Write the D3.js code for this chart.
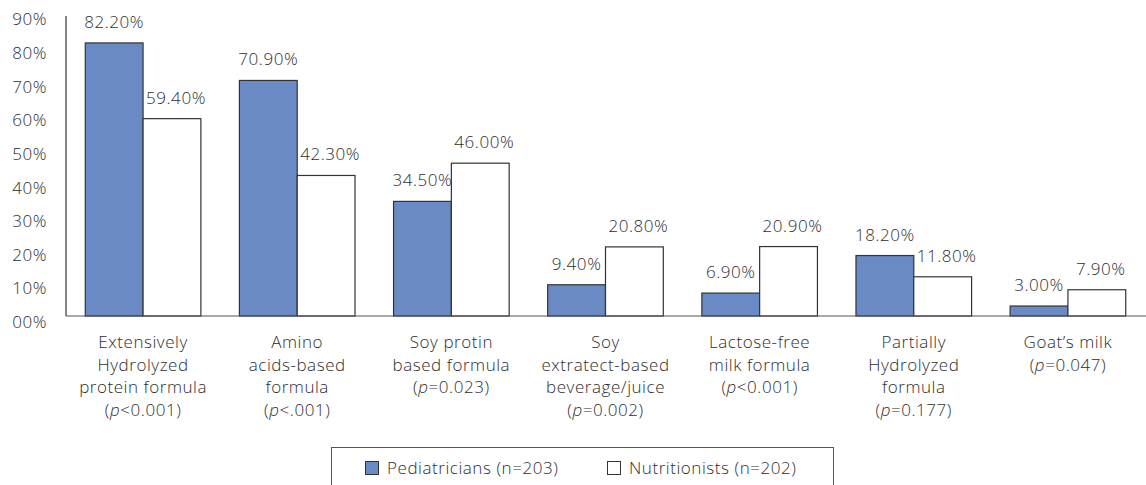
<!DOCTYPE html>
<html lang="en">
<head>
  <meta charset="UTF-8">
  <title>Formula recommendations</title>
  <script src="https://d3js.org/d3.v7.min.js"></script>
  <style>
    body {
      margin: 0;
      background: #fff;
      font-family: 'Open Sans', sans-serif;
    }
    svg text {
      fill: #2e2e2e;
      font-size: 17px;
      font-weight: 350;
      letter-spacing: 0.55px;
    }
  </style>
</head>
<body>
  <svg id="chart" width="1146" height="485"></svg>

  <script>
    // data
    const categories = [
      ["Extensively", "Hydrolyzed", "protein formula", "(p<0.001)"],
      ["Amino", "acids-based", "formula", "(p<.001)"],
      ["Soy protin", "based formula", "(p=0.023)"],
      ["Soy", "extratect-based", "beverage/juice", "(p=0.002)"],
      ["Lactose-free", "milk formula", "(p<0.001)"],
      ["Partially", "Hydrolyzed", "formula", "(p=0.177)"],
      ["Goat\u2019s milk", "(p=0.047)"]
    ];
    const pediatricians = [82.2, 70.9, 34.5, 9.4, 6.9, 18.2, 3.0];
    const nutritionists = [59.4, 42.3, 46.0, 20.8, 20.9, 11.8, 7.9];
    const seriesNames = ["Pediatricians (n=203)", "Nutritionists (n=202)"];
    const seriesColors = ["#6a8ac6", "#ffffff"];
    const yTicks = [0, 10, 20, 30, 40, 50, 60, 70, 80, 90];
    const yTickLabels = ["00%", "10%", "20%", "30%", "40%", "50%", "60%", "70%", "80%", "90%"];

    const svg = d3.select("#chart");
    const plotLeft = 66, plotRight = 1145, plotTop = 17, plotBottom = 316;

    const x = d3.scaleBand()
      .domain(d3.range(categories.length))
      .range([plotLeft, plotRight])
      .paddingInner(0.25)
      .paddingOuter(0.125);

    const xSub = d3.scaleBand()
      .domain([0, 1])
      .range([0, x.bandwidth()]);

    const y = d3.scaleLinear()
      .domain([0, 90])
      .range([plotBottom, plotTop]);

    // y axis labels (no tick marks)
    const yAxis = d3.axisLeft(y)
      .tickValues(yTicks)
      .tickSize(0)
      .tickPadding(19)
      .tickFormat((d, i) => yTickLabels[i]);
    const yg = svg.append("g")
      .attr("transform", `translate(${plotLeft},0)`)
      .call(yAxis);
    yg.select(".domain").remove();
    yg.selectAll("text")
      .attr("dy", "0.32em")
      .attr("transform", d => `translate(0,${2.5 + (90 - d) / 90 * 3.5})`)
      .style("font-size", "17px")
      .style("font-family", "'Open Sans', sans-serif")
      .attr("fill", "#2e2e2e");

    // bars
    const series = [pediatricians, nutritionists];
    series.forEach((vals, s) => {
      const g = svg.append("g");
      g.selectAll("rect")
        .data(vals)
        .join("rect")
        .attr("x", (d, i) => x(i) + xSub(s))
        .attr("y", d => y(d))
        .attr("width", xSub.bandwidth())
        .attr("height", d => plotBottom - y(d))
        .attr("fill", seriesColors[s])
        .attr("stroke", "#333")
        .attr("stroke-width", 1.2);

      g.selectAll("text")
        .data(vals)
        .join("text")
        .attr("x", (d, i) => x(i) + xSub(s) + xSub.bandwidth() / 2 + (s ? 4 : 0))
        .attr("y", d => y(d) - 15)
        .attr("text-anchor", "middle")
        .text(d => d.toFixed(2) + "%");
    });

    // axis lines
    svg.append("line")
      .attr("x1", plotLeft).attr("x2", plotLeft)
      .attr("y1", plotTop - 1).attr("y2", plotBottom)
      .attr("stroke", "#333").attr("stroke-width", 1.2);
    svg.append("line")
      .attr("x1", plotLeft).attr("x2", 1146)
      .attr("y1", plotBottom).attr("y2", plotBottom)
      .attr("stroke", "#555").attr("stroke-width", 1.2);

    // category labels, p in italics
    const catG = svg.append("g");
    categories.forEach((lines, i) => {
      const cx = x(i) + x.bandwidth() / 2;
      const t = catG.append("text")
        .attr("x", cx)
        .attr("y", 348)
        .attr("text-anchor", "middle");
      lines.forEach((ln, k) => {
        const ts = t.append("tspan")
          .attr("x", cx)
          .attr("dy", k === 0 ? 0 : 22.7);
        const m = ln.match(/^\(p(.*)$/);
        if (m) {
          ts.append("tspan").text("(");
          ts.append("tspan").attr("font-style", "italic").text("p");
          ts.append("tspan").text(m[1]);
        } else {
          ts.text(ln);
        }
      });
    });

    // legend
    const lg = svg.append("g");
    lg.append("rect")
      .attr("x", 331.5).attr("y", 447.5)
      .attr("width", 502).attr("height", 45)
      .attr("fill", "#fff")
      .attr("stroke", "#555");
    const legendX = [365, 607];
    seriesNames.forEach((name, s) => {
      lg.append("rect")
        .attr("x", legendX[s] + 0.5).attr("y", 461.5)
        .attr("width", 13).attr("height", 13)
        .attr("fill", seriesColors[s])
        .attr("stroke", "#333");
      lg.append("text")
        .attr("x", legendX[s] + 22)
        .attr("y", 474)
        .text(name);
    });
  </script>
</body>
</html>
